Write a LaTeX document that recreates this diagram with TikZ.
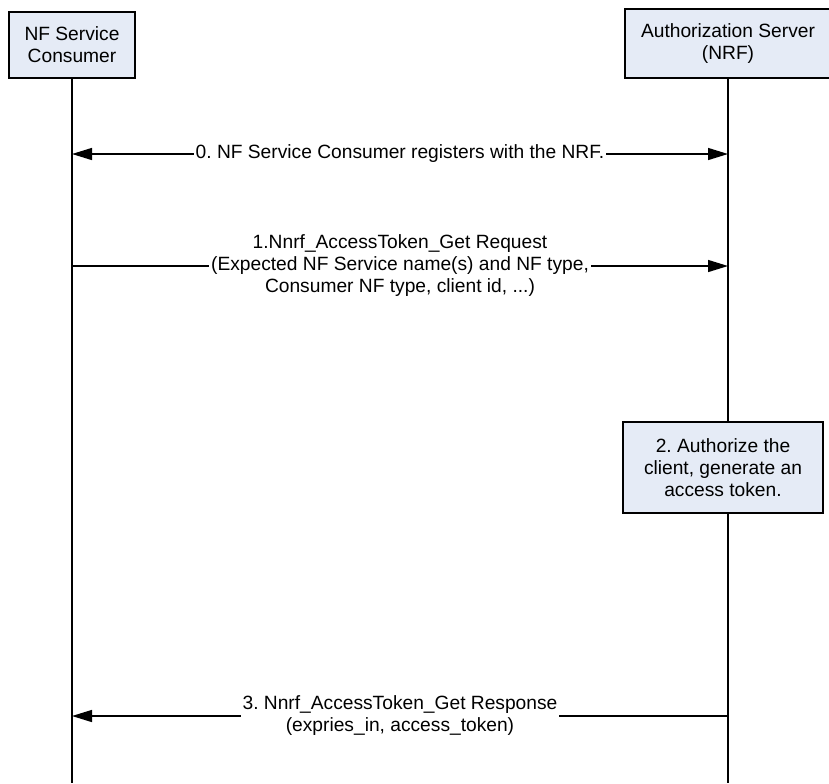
\documentclass[tikz,border=0pt]{standalone}
\usepackage{fontspec}
\setmainfont{Liberation Sans}
\usetikzlibrary{arrows.meta, positioning}
\definecolor{boxfill}{RGB}{229,235,246}
\frenchspacing

\begin{document}
\begin{tikzpicture}[
        x=0.5pt, y=-0.5pt,
        actor/.style={rectangle, draw, fill=boxfill, line width=0.7pt, align=center, inner sep=0pt},
        life/.style={line width=0.7pt},
        msg/.style={line width=0.7pt, -{Triangle[length=10pt, width=6pt]}},
        msgboth/.style={line width=0.7pt, {Triangle[length=10pt, width=6pt]}-{Triangle[length=10pt, width=6pt]}},
        lbl/.style={fill=white, align=center, inner sep=1pt},
        font=\fontsize{9.6}{11}\selectfont
    ]

    \clip (0,0) rectangle (829,783);

    \node[actor, minimum width=63pt, minimum height=33pt] (consumer) at (72,45) {NF Service\\Consumer};
    \node[actor, minimum width=103pt, minimum height=34.5pt] (nrf) at (728,43.5) {Authorization Server\\(NRF)};
    \coordinate (cend) at (72,783);
    \coordinate (nend) at (728,783);
    \draw[life] (consumer) -- (cend);
    \draw[life] (nrf) -- (nend);

    \coordinate (c0) at (72,154);
    \coordinate (n0) at (728,154);
    \draw[msgboth] (c0) -- (n0) node[midway, lbl] (m0) {0. NF Service Consumer registers with the NRF.};

    \coordinate (c1) at (72,266);
    \coordinate (n1) at (728,266);
    \draw[msg] (c1) -- (n1) node[midway, lbl] (m1) {1.Nnrf\_AccessToken\_Get Request\\(Expected NF Service name(s) and NF type,\\Consumer NF type, client id, ...)};

    \node[actor, minimum width=100pt, minimum height=45.5pt] (authz) at (723,467.5) {2. Authorize the\\client, generate an\\access token.};

    \coordinate (n3) at (728,716);
    \coordinate (c3) at (72,716);
    \draw[msg] (n3) -- (c3) node[midway, lbl] (m3) {3. Nnrf\_AccessToken\_Get Response\\(expries\_in, access\_token)};

\end{tikzpicture}
\end{document}
